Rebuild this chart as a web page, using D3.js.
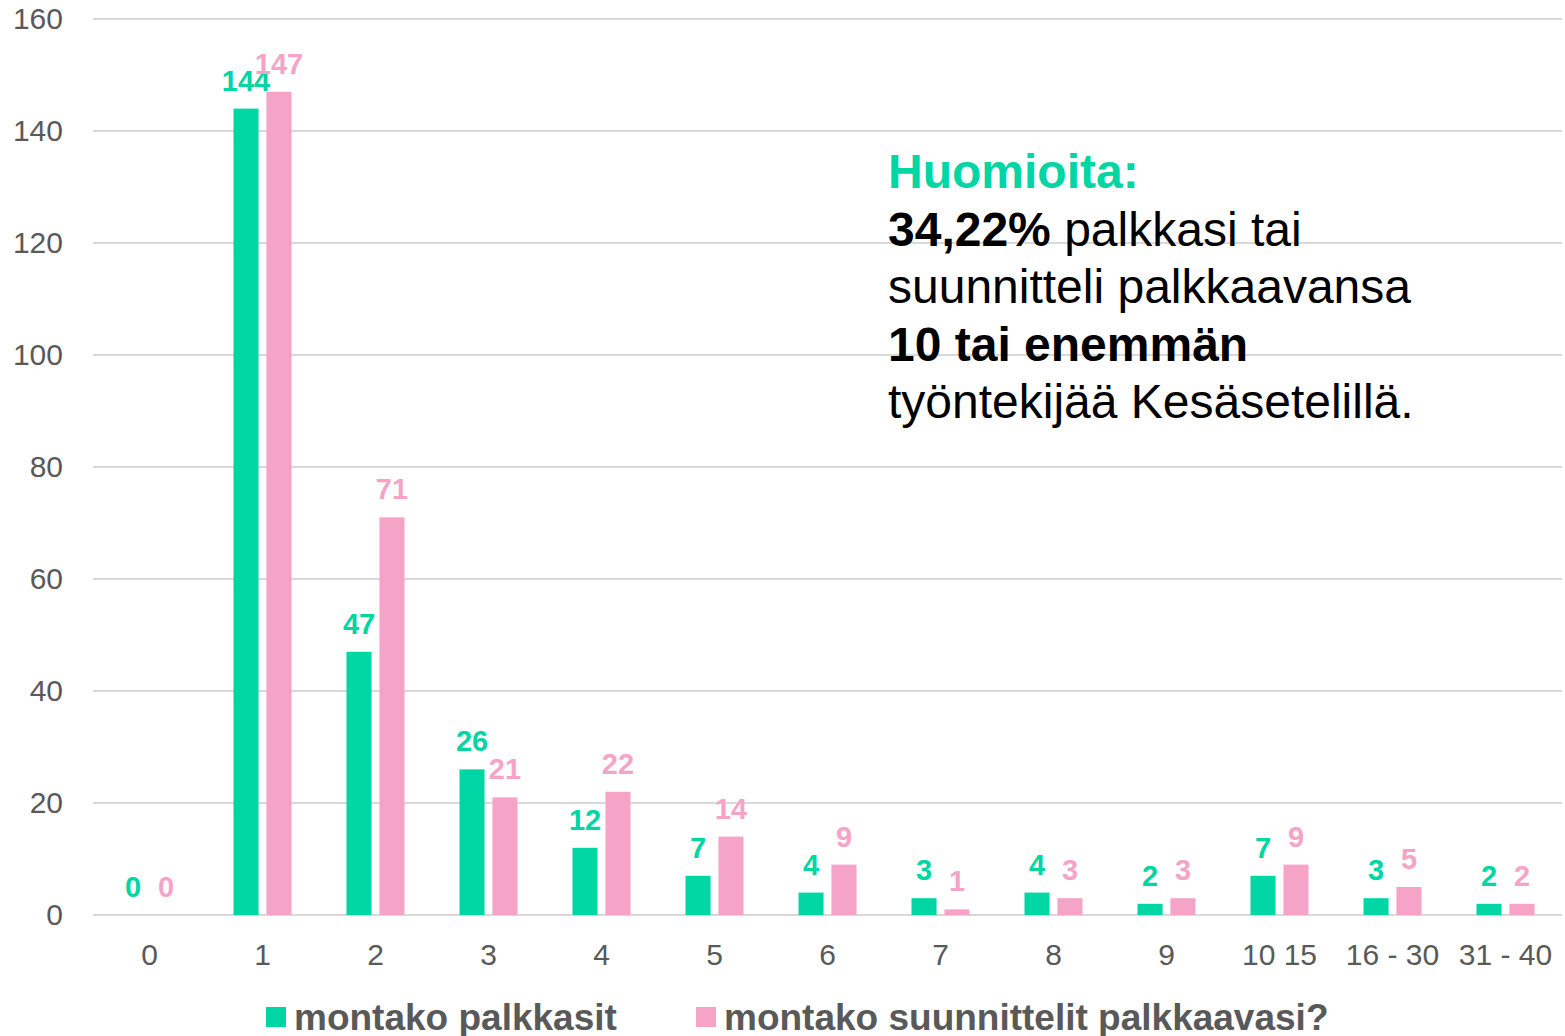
<!DOCTYPE html>
<html>
<head>
<meta charset="utf-8">
<title>Palkatut</title>
<script src="https://d3js.org/d3.v7.min.js"></script>
<style>
    body { margin: 0; padding: 0; background: #ffffff; }
    svg { display: block; font-family: "Liberation Sans", Arial, sans-serif; }
</style>
</head>
<body>
<div id="chart"></div>
<script>
    var categories = ["0", "1", "2", "3", "4", "5", "6", "7", "8", "9", "10 15", "16 - 30", "31 - 40"];
    var palkkasit = [0, 144, 47, 26, 12, 7, 4, 3, 4, 2, 7, 3, 2];
    var suunnittelit = [0, 147, 71, 21, 22, 14, 9, 1, 3, 3, 9, 5, 2];
    var seriesNames = ["montako palkkasit", "montako suunnittelit palkkaavasi?"];
    var yTicks = [0, 20, 40, 60, 80, 100, 120, 140, 160];

    var green = "#00d5a4", pink = "#f5a4c8", grey = "#595959";

    var W = 1565, H = 1036;
    var margin = { top: 19, right: 3, bottom: 121, left: 93 };
    var width = W - margin.left - margin.right;
    var height = H - margin.top - margin.bottom;

    var svg = d3.select("#chart").append("svg")
        .attr("width", W).attr("height", H);
    var g = svg.append("g")
        .attr("transform", "translate(" + margin.left + "," + margin.top + ")");

    var x = d3.scaleBand().domain(categories).range([0, width]);
    var x1 = d3.scaleBand().domain([0, 1]).range([x.bandwidth() / 2 - 29, x.bandwidth() / 2 + 29]).paddingInner(0.24);
    var y = d3.scaleLinear().domain([0, 160]).range([height, 0]);

    // gridlines
    g.selectAll(".grid").data(yTicks).enter().append("line")
        .attr("x1", 0).attr("x2", width)
        .attr("y1", function (d) { return y(d); })
        .attr("y2", function (d) { return y(d); })
        .attr("stroke", "#d9d9d9").attr("stroke-width", 2);

    // y axis labels
    var yAxis = g.append("g").call(d3.axisLeft(y).tickValues(yTicks).tickSize(0).tickPadding(30));
    yAxis.select(".domain").remove();
    yAxis.selectAll("text").attr("font-size", 30).attr("fill", grey)
        .attr("font-family", "Liberation Sans, Arial, sans-serif");

    // x axis labels
    var xAxis = g.append("g").attr("transform", "translate(0," + height + ")")
        .call(d3.axisBottom(x).tickSize(0).tickPadding(29));
    xAxis.select(".domain").remove();
    xAxis.selectAll("text").attr("font-size", 30).attr("fill", grey)
        .attr("font-family", "Liberation Sans, Arial, sans-serif");

    var rows = categories.map(function (c, i) {
        return { cat: c, vals: [palkkasit[i], suunnittelit[i]] };
    });
    var colors = [green, pink];

    var groups = g.selectAll(".cat").data(rows).enter().append("g")
        .attr("transform", function (d) { return "translate(" + x(d.cat) + ",0)"; });

    groups.selectAll("rect").data(function (d) { return d.vals; }).enter().append("rect")
        .attr("x", function (d, i) { return x1(i); })
        .attr("width", x1.bandwidth())
        .attr("y", function (d) { return y(d); })
        .attr("height", function (d) { return height - y(d); })
        .attr("fill", function (d, i) { return colors[i]; });

    groups.selectAll(".lbl").data(function (d) { return d.vals; }).enter().append("text")
        .attr("x", function (d, i) { return x1(i) + x1.bandwidth() / 2; })
        .attr("y", function (d) { return y(d) - 18; })
        .attr("text-anchor", "middle")
        .attr("font-size", 29).attr("font-weight", "bold")
        .attr("fill", function (d, i) { return colors[i]; })
        .text(function (d) { return d; });

    // annotation
    var note = svg.append("text").attr("x", 888).attr("font-size", 48);
    note.append("tspan").attr("x", 888).attr("y", 188).attr("font-weight", "bold").attr("fill", green).text("Huomioita:");
    var l2 = note.append("tspan").attr("x", 888).attr("y", 246);
    l2.append("tspan").attr("font-weight", "bold").text("34,22%");
    l2.append("tspan").text(" palkkasi tai");
    note.append("tspan").attr("x", 888).attr("y", 303).text("suunnitteli palkkaavansa");
    note.append("tspan").attr("x", 888).attr("y", 361).attr("font-weight", "bold").text("10 tai enemmän");
    note.append("tspan").attr("x", 888).attr("y", 418).text("työntekijää Kesäsetelillä.");

    // legend
    var legX = [266, 696];
    var leg = svg.selectAll(".leg").data(seriesNames).enter().append("g")
        .attr("transform", function (d, i) { return "translate(" + legX[i] + ",1007)"; });
    leg.append("rect").attr("width", 20).attr("height", 20)
        .attr("fill", function (d, i) { return colors[i]; });
    leg.append("text").attr("x", 28).attr("y", 23)
        .attr("font-size", 37).attr("font-weight", "bold").attr("fill", grey)
        .text(function (d) { return d; });
</script>
</body>
</html>
